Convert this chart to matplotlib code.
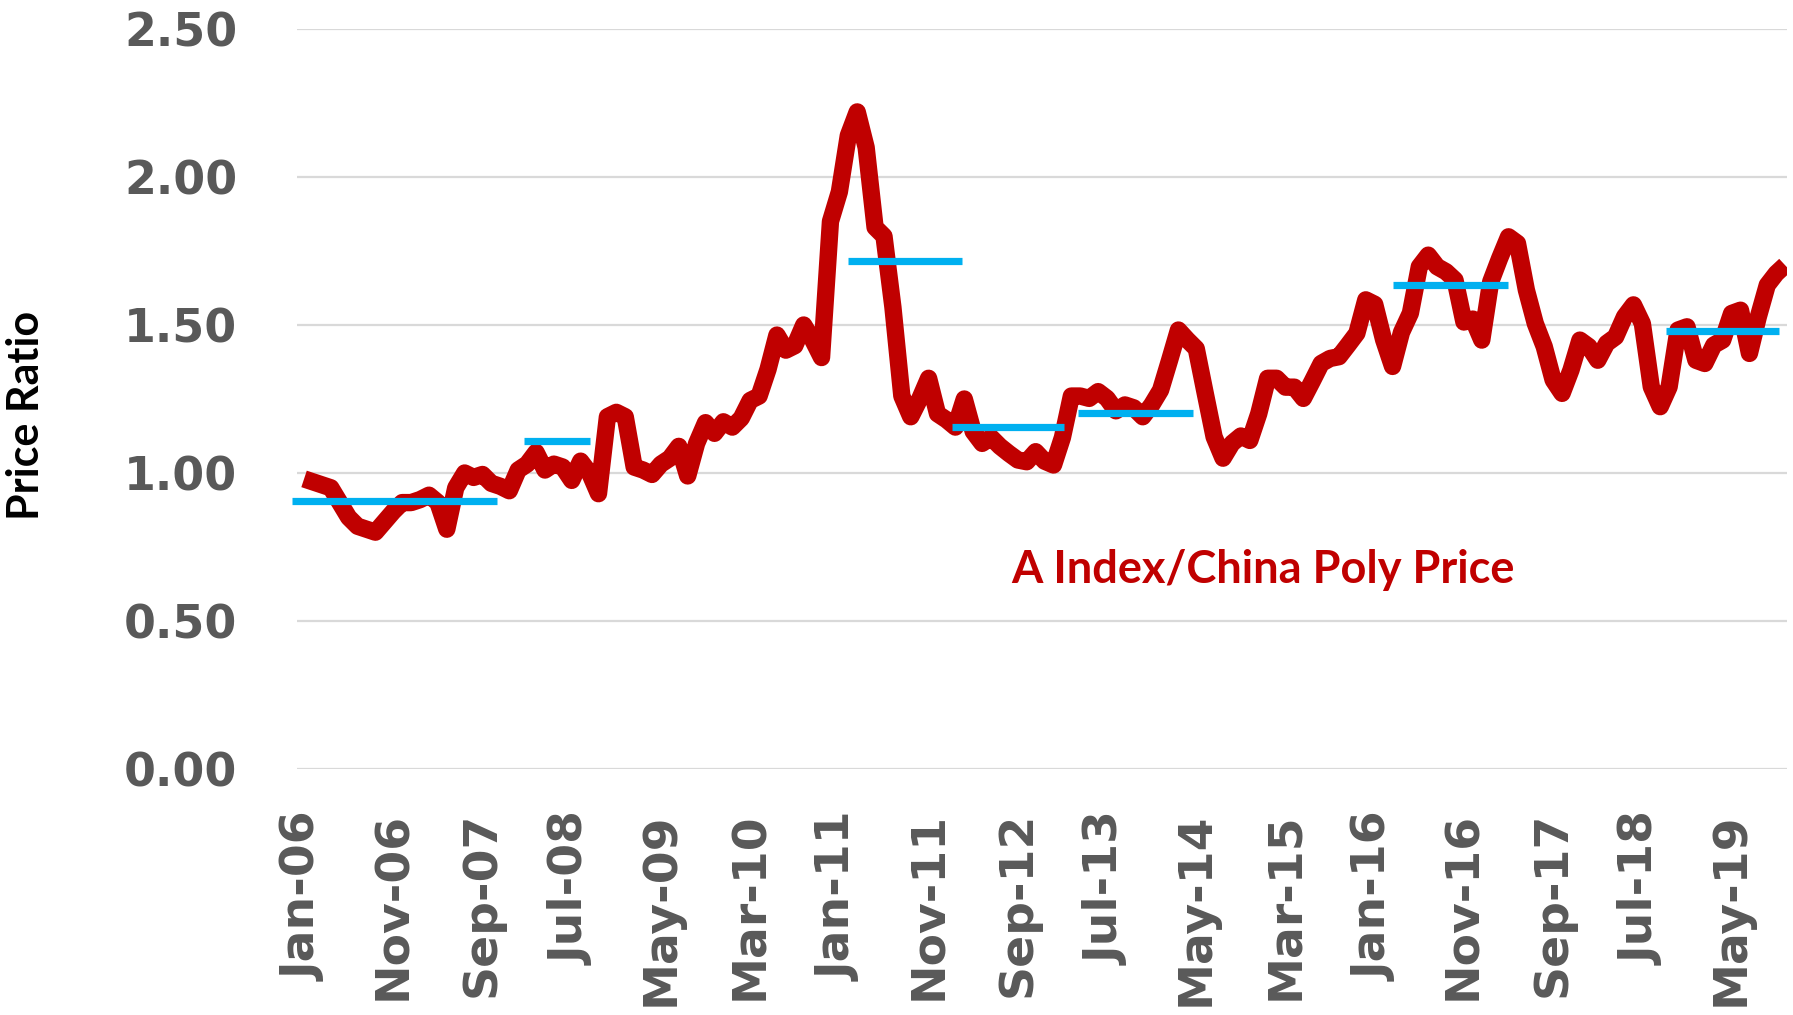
import matplotlib
matplotlib.use("Agg")
import matplotlib.pyplot as plt
import pandas as pd

# monthly price ratio, Jan-06 onwards
ratio = [
    0.98, 0.97, 0.96, 0.95, 0.90, 0.85, 0.82, 0.81, 0.80, 0.835,
    0.87, 0.90, 0.90, 0.91, 0.925, 0.90, 0.81, 0.95, 1.00, 0.985,
    0.995, 0.965, 0.955, 0.94, 1.01, 1.03, 1.07, 1.01, 1.03, 1.02,
    0.975, 1.04, 1.00, 0.93, 1.19, 1.205, 1.19, 1.02, 1.01, 0.995,
    1.03, 1.05, 1.09, 0.99, 1.10, 1.17, 1.134, 1.173, 1.155, 1.185,
    1.245, 1.26, 1.35, 1.466, 1.415, 1.43, 1.50, 1.45, 1.39, 1.85,
    1.95, 2.14, 2.22, 2.10, 1.83, 1.80, 1.56, 1.26, 1.19, 1.25,
    1.32, 1.20, 1.18, 1.155, 1.25, 1.14, 1.10, 1.12, 1.09, 1.066,
    1.044, 1.038, 1.072, 1.04, 1.027, 1.12, 1.26, 1.26, 1.252, 1.275,
    1.252, 1.21, 1.23, 1.22, 1.19, 1.23, 1.28, 1.38, 1.483, 1.45,
    1.42, 1.27, 1.122, 1.05, 1.10, 1.125, 1.11, 1.20, 1.32, 1.32,
    1.29, 1.29, 1.252, 1.31, 1.37, 1.387, 1.393, 1.432, 1.472, 1.585,
    1.57, 1.45, 1.36, 1.475, 1.54, 1.697, 1.736, 1.697, 1.68, 1.652,
    1.51, 1.52, 1.449, 1.646, 1.725, 1.798, 1.776, 1.618, 1.505, 1.427,
    1.314, 1.269, 1.348, 1.449, 1.427, 1.381, 1.438, 1.46, 1.528, 1.568,
    1.505, 1.291, 1.224, 1.291, 1.483, 1.494, 1.381, 1.37, 1.432, 1.449,
    1.539, 1.55, 1.404, 1.528, 1.635, 1.674, 1.702,
]

# period averages (start month index, end month index, level)
avg_start = [-1.4, 24.6, 61.0, 72.6, 86.8, 122.1, 152.6]
avg_end = [21.6, 32.0, 73.7, 85.2, 99.6, 134.9, 165.3]
avg_level = [0.906, 1.108, 1.715, 1.156, 1.204, 1.635, 1.48]

months = pd.date_range("2006-01-01", periods=len(ratio), freq="MS")
tick_pos = list(range(0, len(ratio), 10))
tick_lab = [months[i].strftime("%b-%y") for i in tick_pos]

red = "#C00000"
blue = "#00B0F0"
grey = "#595959"

fig = plt.figure(figsize=(17.93, 10.15), dpi=100)
ax = fig.add_axes([0.1656, 0.2424, 0.831, 0.7290])

ax.plot(range(len(ratio)), ratio, color=red, linewidth=12.5,
        solid_joinstyle="round", solid_capstyle="butt", zorder=3)

for s, e, v in zip(avg_start, avg_end, avg_level):
    ax.plot([s, e], [v, v], color=blue, linewidth=5.2, solid_capstyle="butt",
            zorder=4, clip_on=False)

ax.set_xlim(-0.8, 166.2)
ax.set_ylim(0, 2.5)
ax.set_yticks([0, 0.5, 1.0, 1.5, 2.0, 2.5])
ax.set_yticklabels(["%.2f" % t for t in [0, 0.5, 1.0, 1.5, 2.0, 2.5]])
ax.set_xticks(tick_pos)
ax.set_xticklabels(tick_lab, rotation=90)

ax.tick_params(axis="y", length=0, pad=43, labelsize=33, labelcolor=grey)
ax.tick_params(axis="x", length=0, pad=31, labelsize=34, labelcolor=grey)
for lab in ax.get_xticklabels() + ax.get_yticklabels():
    lab.set_fontweight("bold")

ax.grid(axis="y", color="#D9D9D9", linewidth=1.6)
ax.set_axisbelow(True)
for sp in ax.spines.values():
    sp.set_visible(False)

ax.text(107.5, 0.672, "A Index/China Poly Price", color=red, fontsize=32.5,
        fontweight="bold", family="Lato", ha="center", va="center")

fig.text(0.0145, 0.591, "Price Ratio", rotation=90, fontsize=31,
         fontweight="bold", family="Lato", ha="center", va="center")

fig.savefig("out.png", dpi=100)
